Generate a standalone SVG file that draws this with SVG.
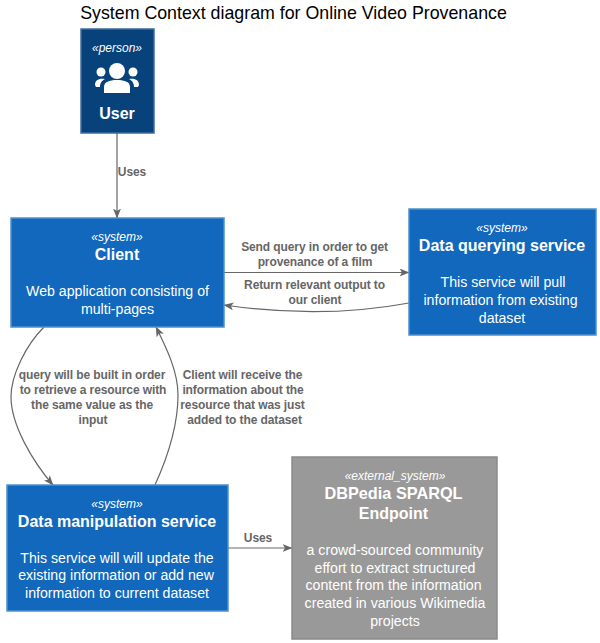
<svg xmlns="http://www.w3.org/2000/svg" width="600" height="643" viewBox="0 0 600 643">
<style>
text{font-family:"Liberation Sans",Arial,sans-serif;text-anchor:middle}
.box{stroke-width:1.5}
.sys{fill:#1168bd;stroke:#4f8fce}
.per{fill:#08427b;stroke:#3c6d9c}
.ext{fill:#999999;stroke:#8a8a8a}
.st{fill:#fff;font-size:12px;font-style:italic}
.nm{fill:#fff;font-size:16px;font-weight:bold}
.d{fill:#fff;font-size:14.150px}
.lb{fill:#666666;font-size:12px;font-weight:bold;letter-spacing:-0.1px}
.c{fill:none;stroke:#666666;stroke-width:1.2}
.ah{fill:#666666}
</style>
<defs>
<marker id="arr" viewBox="0 0 10 8" refX="9.5" refY="4" markerWidth="10" markerHeight="8" markerUnits="userSpaceOnUse" orient="auto"><path class="ah" d="M0 0L10 4L0 8L2.5 4Z"/></marker>
</defs>
<text x="293.500" y="19" style="font-size:17.800px;fill:#000">System Context diagram for Online Video Provenance</text>
<g id="connectors">
<path class="c" marker-end="url(#arr)" d="M117 133V218"/>
<path class="c" marker-end="url(#arr)" d="M224 272.500H409"/>
<path class="c" marker-end="url(#arr)" d="M409 303C350 314 285 314 224 305"/>
<path class="c" marker-end="url(#arr)" d="M44 327C26 345 11 375 11 397C11 425 33 462 53 485"/>
<path class="c" marker-end="url(#arr)" d="M155 485C170 452 178 420 178 395C178 372 167 349 156 327"/>
<path class="c" marker-end="url(#arr)" d="M228 548H292"/>
</g>
<g id="labels">
<text class="lb" x="132" y="176">Uses</text>
<text class="lb" x="314.500" y="251">Send query in order to get</text>
<text class="lb" x="315" y="266">provenance of a film</text>
<text class="lb" x="314.500" y="289">Return relevant output to</text>
<text class="lb" x="315" y="304">our client</text>
<text class="lb" x="92" y="379">query will be built in order</text>
<text class="lb" x="93" y="394">to retrieve a resource with</text>
<text class="lb" x="92" y="409">the same value as the</text>
<text class="lb" x="93" y="424">input</text>
<text class="lb" x="242.500" y="379">Client will receive the</text>
<text class="lb" x="243" y="394">information about the</text>
<text class="lb" x="242.500" y="409">resource that was just</text>
<text class="lb" x="244.500" y="424">added to the dataset</text>
<text class="lb" x="258" y="542">Uses</text>
</g>
<g id="user">
<rect class="box per" x="81" y="29" width="73" height="104"/>
<text class="st" x="117" y="52">«person»</text>
<g fill="#fff">
<circle cx="117" cy="71" r="8"/>
<circle cx="101" cy="72" r="4.500"/>
<circle cx="133" cy="72" r="4.500"/>
<path d="M104 93V87C104 82 109 80 117 80C125 80 130 82 130 87V93Z"/>
<path d="M95 85C95 80 99 78 105 79C101 81 100 84 100 87H96Z"/>
<path d="M139 85C139 80 135 78 129 79C133 81 134 84 134 87H138Z"/>
</g>
<text class="nm" x="117" y="119">User</text>
</g>
<g id="client">
<rect class="box sys" x="11" y="218" width="213" height="109"/>
<text class="st" x="117" y="241">«system»</text>
<text class="nm" x="117" y="260">Client</text>
<text class="d" x="117.500" y="296">Web application consisting of</text>
<text class="d" x="117.500" y="314">multi-pages</text>
</g>
<g id="querying">
<rect class="box sys" x="409" y="209" width="187" height="126"/>
<text class="st" x="502" y="232">«system»</text>
<text class="nm" x="502" y="251">Data querying service</text>
<text class="d" x="503" y="287">This service will pull</text>
<text class="d" x="500.500" y="305">information from existing</text>
<text class="d" x="502" y="323">dataset</text>
</g>
<g id="manipulation">
<rect class="box sys" x="7" y="485" width="221" height="126"/>
<text class="st" x="117" y="508">«system»</text>
<text class="nm" x="117" y="527">Data manipulation service</text>
<text class="d" x="117" y="563">This service will will update the</text>
<text class="d" x="116" y="580">existing information or add new</text>
<text class="d" x="117" y="598">information to current dataset</text>
</g>
<g id="dbpedia">
<rect class="box ext" x="292" y="457" width="205" height="182"/>
<text class="st" x="395" y="480">«external_system»</text>
<text class="nm" x="393.500" y="499" style="font-size:16.300px">DBPedia SPARQL</text>
<text class="nm" x="393.500" y="519">Endpoint</text>
<text class="d" x="395" y="555">a crowd-sourced community</text>
<text class="d" x="395" y="573">effort to extract structured</text>
<text class="d" x="393.500" y="590">content from the information</text>
<text class="d" x="395" y="608">created in various Wikimedia</text>
<text class="d" x="395" y="626">projects</text>
</g>
</svg>
